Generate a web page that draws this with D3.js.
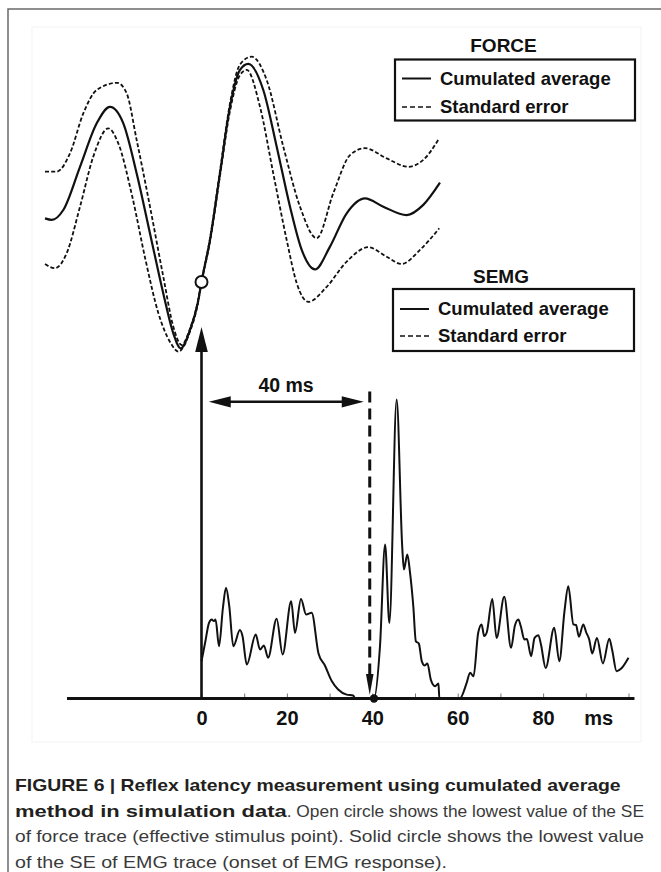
<!DOCTYPE html>
<html>
<head>
<meta charset="utf-8">
<script src="https://cdn.jsdelivr.net/npm/d3@7"></script>
<style>
  body { margin: 0; background: #fff; }
  svg { display: block; }
</style>
</head>
<body>
<div id="chart"></div>
<script>
// ---- data (time in ms, force and EMG in arbitrary units) ----
const forceMean = [[-36.65,4.72],[-35.08,4.67],[-32.37,5.00],[-28.45,6.44],[-24.54,7.89],[-21.43,8.44],[-18.31,7.89],
  [-15.18,6.22],[-12.06,4.22],[-8.95,2.22],[-6.60,0.89],[-4.87,0.39],[-2.69,1.00],[-0.89,1.89],[0,2.6],[1.99,4.00],
  [4.33,6.22],[6.67,8.44],[9.02,9.67],[10.96,9.87],[14.47,9.00],[17.61,7.11],[20.73,5.11],[23.47,3.67],[26.58,3.02],
  [30.09,3.78],[34.00,4.89],[38.29,5.39],[42.58,5.11],[48.06,4.83],[51.94,5.17],[55.85,5.91]];

const forceUpper = [[-36.65,6.28],[-33.91,6.28],[-30.80,6.89],[-27.68,8.22],[-24.54,9.00],[-19.72,9.24],[-17.52,8.89],
  [-15.18,7.33],[-12.06,5.11],[-8.95,2.78],[-6.60,1.11],[-4.64,0.50],[-2.69,1.05],[-0.89,1.93],[0,2.63],[1.99,4.05],
  [4.33,6.30],[6.67,8.55],[9.02,9.85],[11.76,10.11],[15.27,9.33],[19.16,7.11],[23.07,5.11],[26.98,4.06],[30.87,5.56],
  [34.78,6.83],[38.29,7.06],[43.37,6.72],[48.43,6.44],[51.94,6.67],[55.69,7.39]];

const forceLower = [[-36.65,3.20],[-34.31,3.06],[-31.57,3.56],[-28.45,5.11],[-25.34,6.78],[-21.83,7.72],[-19.48,7.22],
  [-16.2,5.44],[-13.1,3.33],[-10.1,1.56],[-7.2,0.56],[-5.43,0.28],[-2.69,0.95],[-0.89,1.85],[0,2.57],[1.99,3.95],
  [4.33,6.14],[6.67,8.30],[9.02,9.50],[10.59,9.67],[13.70,8.44],[16.81,6.22],[19.95,4.00],[22.30,2.56],[25.01,1.94],
  [29.32,2.44],[34.00,3.28],[39.06,3.76],[43.37,3.44],[46.89,3.20],[51.17,3.67],[55.69,4.39]];

const emg = [[0,12.4],[0.9,19],[1.76,25.2],[2.4,26.3],[2.9,25.8],[3.3,26.3],[4.1,17.4],[5.0,30],[5.74,36.9],[6.5,30.8],
  [7.45,17.4],[9.0,22.8],[9.6,20.8],[10.6,11.3],[12.7,21.3],[13.7,16.3],[14.6,17.7],[15.6,13.6],[17.6,26.6],[19.0,14.7],
  [21.0,32.4],[21.9,21.9],[23.3,33.2],[24.5,28],[25.8,28.6],[27.4,15],[28.9,11],[30.5,5.8],[32.0,3.0],[34.0,1.3],
  [35.5,1.0],[36,0],[40.4,0],[41.8,17.4],[43.0,51.3],[44.0,25.2],[45.7,99.7],[47.0,50.8],[47.4,43],[48.2,48],[48.8,42.4],
  [49.6,30.8],[50.2,19.1],[50.9,18.3],[51.6,12.4],[52.3,11],[52.9,11.7],[53.7,6.3],[54.7,4.1],[55.5,5],[55.7,0],
  [60.5,0],[62.1,5.2],[62.9,8.6],[63.7,7.4],[64.8,21.9],[65.6,24.7],[66.2,20.8],[66.8,22],[68.1,33.2],[69.1,20.2],
  [70.9,33.9],[72.5,16.9],[73.4,24.3],[74.2,26.3],[74.8,24],[75.6,19.7],[76.2,19.8],[77.2,14.1],[78.0,20.2],[78.9,21.1],
  [79.5,18],[80.6,10.2],[82.6,23.6],[83.8,12.4],[85.0,29],[85.9,37.4],[87.1,24.7],[87.7,24.5],[88.4,20.6],[89.4,24.7],
  [90.1,22],[90.8,19.7],[91.5,15],[92.6,20.2],[94.0,11.7],[95.5,19.9],[96.2,16],[97.2,9.1],[98.3,10],[100,13.6]];

const tickValues = d3.range(0, 101, 10);
const tickLabels = [0, 20, 40, 60, 80];
const axisExtent = [-31.5, 101.4];
const stimulusMs = 0, stimulusForce = 2.6;   // open circle
const onsetMs = 40.4;                          // solid circle
const latencyText = "40 ms";
const legendItems = ["Cumulated average", "Standard error"];

const captionLines = [
  [{t: "FIGURE 6 | Reflex latency measurement using cumulated average", b: true}],
  [{t: "method in simulation data", b: true}, {t: ". Open circle shows the lowest value of the SE", b: false}],
  [{t: "of force trace (effective stimulus point). Solid circle shows the lowest value", b: false}],
  [{t: "of the SE of EMG trace (onset of EMG response).", b: false}]
];

// ---- setup ----
const W = 661, H = 872;
const font = "'Liberation Sans', Arial, Helvetica, sans-serif";
const svg = d3.select("#chart").append("svg").attr("width", W).attr("height", H);

// outer frame (only top and left edges fall inside the crop)
svg.append("path").attr("d", "M8,900V9H700")
  .attr("fill", "none").attr("stroke", "#6a6a6a").attr("stroke-width", 1.5);
svg.append("rect").attr("x", 32).attr("y", 27).attr("width", 609).attr("height", 715)
  .attr("fill", "none").attr("stroke", "#f3f3f3");

const x = d3.scaleLinear().domain([0, 100]).range([201.5, 628.5]);
const yForce = d3.scaleLinear().domain([0, 10]).range([360, 60]);
const yEmg = d3.scaleLinear().domain([0, 100]).range([698.5, 398.5]);

function lineFor(ys) {
  return d3.line().x(d => x(d[0])).y(d => ys(d[1])).curve(d3.curveMonotoneX);
}

// ---- force traces ----
const g = svg.append("g");
[forceUpper, forceLower].forEach(s => {
  g.append("path").datum(s).attr("d", lineFor(yForce))
    .attr("fill", "none").attr("stroke", "#111").attr("stroke-width", 1.8)
    .attr("stroke-dasharray", "4,2.2");
});
g.append("path").datum(forceMean).attr("d", lineFor(yForce))
  .attr("fill", "none").attr("stroke", "#111").attr("stroke-width", 2.2);

// ---- EMG trace ----
g.append("path").datum(emg).attr("d", lineFor(yEmg))
  .attr("fill", "none").attr("stroke", "#111").attr("stroke-width", 2)
  .attr("stroke-linejoin", "round");

// ---- x axis ----
const axis = d3.axisBottom(x).tickValues(tickValues).tickSize(-5).tickPadding(12)
  .tickFormat(d => tickLabels.includes(d) ? d : "");
const ag = svg.append("g").attr("transform", `translate(0,${yEmg(0)})`).call(axis);
ag.select(".domain").remove();
ag.selectAll(".tick line").attr("stroke", "#777").attr("stroke-width", 1);
ag.selectAll(".tick text").attr("font-family", font).attr("font-weight", "bold")
  .attr("font-size", 20).attr("fill", "#111");
ag.append("text").attr("x", x(93)).attr("y", 12).attr("dy", "0.71em")
  .attr("text-anchor", "middle").attr("font-family", font).attr("font-weight", "bold")
  .attr("font-size", 20).attr("fill", "#111").text("ms");
svg.append("line").attr("x1", x(axisExtent[0])).attr("x2", x(axisExtent[1]))
  .attr("y1", yEmg(0)).attr("y2", yEmg(0)).attr("stroke", "#111").attr("stroke-width", 3);

// ---- annotations ----
// vertical stimulus arrow
const sx = x(stimulusMs), tipY = yForce(1.1);
svg.append("line").attr("x1", sx).attr("x2", sx).attr("y1", yEmg(0)).attr("y2", tipY + 20)
  .attr("stroke", "#111").attr("stroke-width", 2.6);
svg.append("path").attr("d", `M${sx},${tipY}L${sx - 6.3},${tipY + 25}L${sx + 6.3},${tipY + 25}Z`).attr("fill", "#111");

// open circle on the force mean
svg.append("circle").attr("cx", x(stimulusMs)).attr("cy", yForce(stimulusForce)).attr("r", 6)
  .attr("fill", "#fff").attr("stroke", "#111").attr("stroke-width", 2);

// horizontal double arrow "40 ms"
const ay = yEmg(98.9), ax1 = x(1.7), ax2 = x(38.0);
svg.append("line").attr("x1", ax1 + 15).attr("x2", ax2 - 15).attr("y1", ay).attr("y2", ay)
  .attr("stroke", "#111").attr("stroke-width", 2.6);
svg.append("path").attr("d", `M${ax1},${ay}L${ax1 + 22},${ay - 5.6}L${ax1 + 22},${ay + 5.6}Z`).attr("fill", "#111");
svg.append("path").attr("d", `M${ax2},${ay}L${ax2 - 22},${ay - 5.6}L${ax2 - 22},${ay + 5.6}Z`).attr("fill", "#111");
svg.append("text").attr("x", x(19.8)).attr("y", yEmg(102.3)).attr("text-anchor", "middle")
  .attr("font-family", font).attr("font-weight", "bold").attr("font-size", 19.5).attr("fill", "#111")
  .text(latencyText);

// dashed onset arrow
const dx = x(39.4), dTip = yEmg(1.2);
svg.append("line").attr("x1", dx).attr("x2", dx).attr("y1", yEmg(102.3)).attr("y2", dTip - 14)
  .attr("stroke", "#111").attr("stroke-width", 3).attr("stroke-dasharray", "11,6");
svg.append("path").attr("d", `M${dx},${dTip}L${dx - 3.8},${dTip - 21}L${dx + 3.8},${dTip - 21}Z`).attr("fill", "#111");

// solid onset circle
svg.append("circle").attr("cx", x(onsetMs)).attr("cy", yEmg(0)).attr("r", 4.2).attr("fill", "#111");

// ---- legends ----
function legend(title, titleX, titleY, bx, by, bw, bh, rowY) {
  const lg = svg.append("g");
  lg.append("text").attr("x", titleX).attr("y", titleY).attr("text-anchor", "middle")
    .attr("font-family", font).attr("font-weight", "bold").attr("font-size", 19).attr("fill", "#111").text(title);
  lg.append("rect").attr("x", bx).attr("y", by).attr("width", bw).attr("height", bh)
    .attr("fill", "#fff").attr("stroke", "#111").attr("stroke-width", 2.2);
  legendItems.forEach((t, i) => {
    const yy = rowY[i];
    lg.append("line").attr("x1", bx + 7).attr("x2", bx + 36).attr("y1", yy - 6).attr("y2", yy - 6)
      .attr("stroke", "#111").attr("stroke-width", i === 0 ? 2 : 1.6)
      .attr("stroke-dasharray", i === 0 ? null : "5,3");
    lg.append("text").attr("x", bx + 45).attr("y", yy)
      .attr("font-family", font).attr("font-weight", "bold").attr("font-size", 18.5).attr("fill", "#111").text(t);
  });
}
legend("FORCE", 503.5, 52, 395, 59.5, 240, 61, [84.5, 113]);
legend("SEMG", 501, 282.5, 393, 289, 241, 62, [315, 342]);

// ---- caption ----
const capX = 15, capY = [791, 817, 842, 868];
const capEnds = [[620.6], [286.7, 644], [644], [447]];
captionLines.forEach((parts, i) => {
  let sx0 = capX;
  parts.forEach((p, j) => {
    const end = capEnds[i][j];
    svg.append("text").attr("x", sx0).attr("y", capY[i])
      .attr("font-family", font).attr("font-size", 17)
      .attr("font-weight", p.b ? "bold" : "normal")
      .attr("fill", p.b ? "#231f20" : "#3a3a3a")
      .attr("textLength", end - sx0).attr("lengthAdjust", "spacingAndGlyphs")
      .text(p.t);
    sx0 = end;
  });
});
</script>
</body>
</html>
